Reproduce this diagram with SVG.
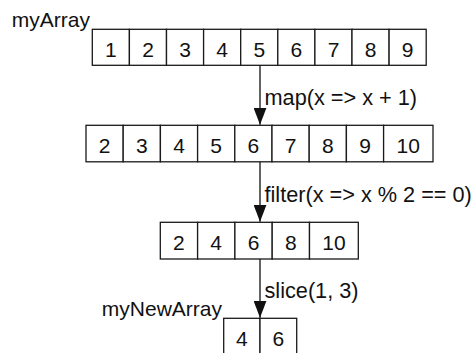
<svg xmlns="http://www.w3.org/2000/svg" width="475" height="353" viewBox="0 0 475 353">
  <style>
    .cell { fill: #ffffff; stroke: #1a1a1a; stroke-width: 1.3; }
    .num { font-family: "Liberation Sans", Arial, sans-serif; font-size: 21px; fill: #111; text-anchor: middle; }
    .lbl { font-family: "Liberation Sans", Arial, sans-serif; font-size: 21.7px; fill: #111; }
    .name { font-family: "Liberation Sans", Arial, sans-serif; font-size: 21px; fill: #111; text-anchor: end; }
    .edge { stroke: #111; stroke-width: 1.3; fill: none; marker-end: url(#head); }
  </style>
  <defs>
    <!-- solid triangular arrowhead, tip at the end of the line -->
    <marker id="head" markerUnits="userSpaceOnUse" markerWidth="17" markerHeight="13" refX="17" refY="6.5" orient="auto" viewBox="0 0 17 13">
      <path d="M0,0 L17,6.5 L0,13 Z" fill="#111"/>
    </marker>
  </defs>

  <!-- myArray -->
  <g id="myArray">
    <text class="name" x="90" y="26.5">myArray</text>
    <rect class="cell" x="92.3" y="29.3" width="37.1" height="36"/>
    <rect class="cell" x="129.4" y="29.3" width="37.1" height="36"/>
    <rect class="cell" x="166.5" y="29.3" width="37.1" height="36"/>
    <rect class="cell" x="203.6" y="29.3" width="37.1" height="36"/>
    <rect class="cell" x="240.7" y="29.3" width="37.1" height="36"/>
    <rect class="cell" x="277.8" y="29.3" width="37.1" height="36"/>
    <rect class="cell" x="314.9" y="29.3" width="37.1" height="36"/>
    <rect class="cell" x="352" y="29.3" width="37.1" height="36"/>
    <rect class="cell" x="389.1" y="29.3" width="37.1" height="36"/>
    <text class="num" x="110.9" y="57.3">1</text>
    <text class="num" x="148" y="57.3">2</text>
    <text class="num" x="185.1" y="57.3">3</text>
    <text class="num" x="222.2" y="57.3">4</text>
    <text class="num" x="259.3" y="57.3">5</text>
    <text class="num" x="296.4" y="57.3">6</text>
    <text class="num" x="333.5" y="57.3">7</text>
    <text class="num" x="370.6" y="57.3">8</text>
    <text class="num" x="407.7" y="57.3">9</text>
  </g>

  <!-- mapped -->
  <g id="mapped">
    <rect class="cell" x="86" y="125.3" width="37.2" height="36.5"/>
    <rect class="cell" x="123.2" y="125.3" width="37.2" height="36.5"/>
    <rect class="cell" x="160.4" y="125.3" width="37.2" height="36.5"/>
    <rect class="cell" x="197.6" y="125.3" width="37.2" height="36.5"/>
    <rect class="cell" x="234.8" y="125.3" width="37.2" height="36.5"/>
    <rect class="cell" x="272" y="125.3" width="37.2" height="36.5"/>
    <rect class="cell" x="309.2" y="125.3" width="37.2" height="36.5"/>
    <rect class="cell" x="346.4" y="125.3" width="37.2" height="36.5"/>
    <rect class="cell" x="383.6" y="125.3" width="49.4" height="36.5"/>
    <text class="num" x="104.6" y="153.3">2</text>
    <text class="num" x="141.8" y="153.3">3</text>
    <text class="num" x="179" y="153.3">4</text>
    <text class="num" x="216.2" y="153.3">5</text>
    <text class="num" x="253.4" y="153.3">6</text>
    <text class="num" x="290.6" y="153.3">7</text>
    <text class="num" x="327.8" y="153.3">8</text>
    <text class="num" x="365" y="153.3">9</text>
    <text class="num" x="408.3" y="153.3">10</text>
  </g>

  <!-- filtered -->
  <g id="filtered">
    <rect class="cell" x="160.3" y="222.3" width="37.3" height="36.7"/>
    <rect class="cell" x="197.6" y="222.3" width="37.3" height="36.7"/>
    <rect class="cell" x="234.9" y="222.3" width="37.3" height="36.7"/>
    <rect class="cell" x="272.2" y="222.3" width="37.3" height="36.7"/>
    <rect class="cell" x="309.5" y="222.3" width="48.8" height="36.7"/>
    <text class="num" x="178.9" y="250.3">2</text>
    <text class="num" x="216.2" y="250.3">4</text>
    <text class="num" x="253.5" y="250.3">6</text>
    <text class="num" x="290.8" y="250.3">8</text>
    <text class="num" x="333.9" y="250.3">10</text>
  </g>

  <!-- myNewArray -->
  <g id="myNewArray">
    <text class="name" x="222" y="316">myNewArray</text>
    <rect class="cell" x="223.7" y="318.3" width="36.3" height="40"/>
    <rect class="cell" x="260" y="318.3" width="36.7" height="40"/>
    <text class="num" x="241.8" y="346.3">4</text>
    <text class="num" x="278.3" y="346.3">6</text>
  </g>

  <!-- connectors -->
  <g id="connectors">
    <line class="edge" x1="260" y1="65.3" x2="260" y2="124.8"/>
    <line class="edge" x1="260" y1="161.8" x2="260" y2="221.8"/>
    <line class="edge" x1="260" y1="259" x2="260" y2="317.8"/>
    <text class="lbl" x="264.5" y="105">map(x =&gt; x + 1)</text>
    <text class="lbl" x="264.5" y="201.5">filter(x =&gt; x % 2 == 0)</text>
    <text class="lbl" x="264.5" y="298">slice(1, 3)</text>
  </g>
</svg>
